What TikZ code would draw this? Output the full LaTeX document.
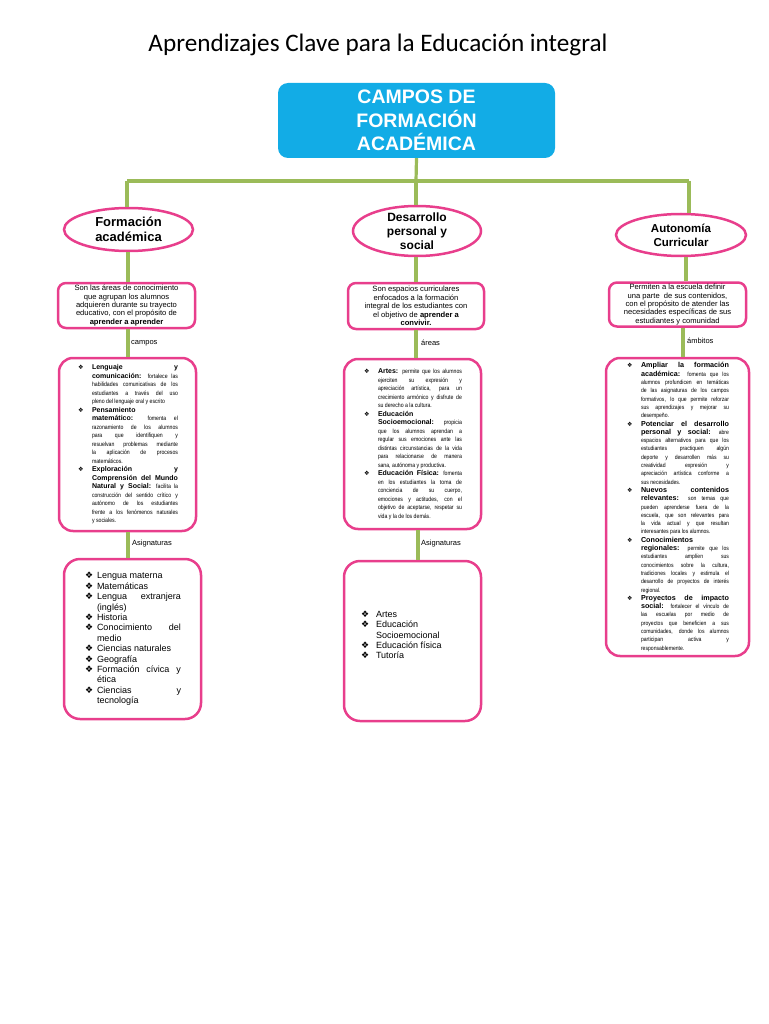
\documentclass[tikz,border=0pt]{standalone}
\usepackage{fontspec}
\setmainfont{Liberation Sans}
\newfontfamily\titlefont{Carlito}
\newfontfamily\symfont{DejaVu Sans}
\newfontfamily\narrowfont[FakeStretch=0.85]{Liberation Sans}
\usetikzlibrary{shapes.geometric}
\definecolor{pinkc}{RGB}{232,62,140}
\definecolor{greenc}{RGB}{155,187,89}
\definecolor{cyanc}{RGB}{18,172,230}
\newcommand\jsetup{\tolerance=10000\hbadness=10000\hyphenpenalty=10000\exhyphenpenalty=10000}
\newcommand\bodyfont[2]{\narrowfont\fontsize{#1}{#2}\selectfont}
\newcommand\hd[2][7]{{\normalfont\bfseries\fontsize{#1}{8}\selectfont #2}}
\newcommand\itm[2][15pt]{\par\noindent\hangindent=#1\hangafter=1\makebox[#1][l]{\hspace{1pt}{\symfont ❖}}#2}
\newcommand\boxfont{\fontsize{7.6}{8.4}\selectfont}
\tikzset{
  pinkbox/.style={draw=pinkc, line width=2.5pt, fill=white, rounded corners=#1, inner sep=0pt},
  pinkbox/.default=8pt,
  ell/.style={ellipse, draw=pinkc, line width=2.5pt, fill=white, inner sep=0pt},
  elltext/.style={align=center, inner sep=0pt, font=\bfseries},
  conn/.style={draw=greenc, line width=3.2pt},
  lbl/.style={anchor=west, inner sep=0pt, font=\fontsize{7.5}{8}\selectfont},
}
\begin{document}
\begin{tikzpicture}[x=1pt,y=-1pt]
\useasboundingbox (0,0) rectangle (768,1024);
% title
\node[inner sep=0pt, font=\titlefont\fontsize{25.2}{28}\selectfont] (title) at (378,45) {Aprendizajes Clave para la Educación integral};
% top box
\node[fill=cyanc, rounded corners=10pt, minimum width=277pt, minimum height=75pt, inner sep=0pt,
      text=white, align=center, font=\bfseries\fontsize{19.5}{23.5}\selectfont] (top) at (416.5,120.5)
      {CAMPOS DE\\FORMACIÓN\\ACADÉMICA};
% bar coordinates
\coordinate (barL) at (127,181);
\coordinate (barM) at (416,181);
\coordinate (barR) at (689,181);
\coordinate (cL) at (128,0);
\coordinate (cM) at (416,0);
\coordinate (cM2) at (418,0);
\coordinate (cR1) at (686,0);
\coordinate (cR2) at (683,0);
% ellipses
\node[ell, minimum width=129pt, minimum height=43pt] (e1) at (128.5,229.5) {};
\node[elltext, font=\bfseries\fontsize{13}{15}\selectfont] (e1t) at (e1.center) {Formación\\académica};
\node[ell, minimum width=128pt, minimum height=50pt] (e2) at (417,231) {};
\node[elltext, font=\bfseries\fontsize{12}{14}\selectfont] (e2t) at (e2.center) {Desarrollo\\personal y\\social};
\node[ell, minimum width=130pt, minimum height=42pt] (e3) at (681,235) {};
\node[elltext, font=\bfseries\fontsize{11.5}{14}\selectfont] (e3t) at (e3.center) {Autonomía\\Curricular};
% first boxes
\node[pinkbox=8pt, minimum width=137pt, minimum height=45pt] (lb1) at (126.5,305.5)
  {\parbox{136pt}{\centering\boxfont Son las áreas de conocimiento\\que agrupan los alumnos\\adquieren durante su trayecto\\educativo, con el propósito de\\\textbf{aprender a aprender}}};
\node[pinkbox=8pt, minimum width=136pt, minimum height=46pt] (mb1) at (416,306)
  {\parbox{136pt}{\centering\boxfont Son espacios curriculares\\enfocados a la formación\\integral de los estudiantes con\\el objetivo de \textbf{aprender a}\\\textbf{convivir.}}};
\node[pinkbox=8pt, minimum width=137pt, minimum height=44pt] (rb1) at (677.5,304.5)
  {\parbox{137pt}{\centering\boxfont Permiten a la escuela definir\\una parte\ \ de sus contenidos,\\con el propósito de atender las\\necesidades específicas de sus\\estudiantes y comunidad}};
% second boxes
\node[pinkbox=14pt, minimum width=137pt, minimum height=173pt] (lb2) at (127.5,444.5)
  {\parbox{101pt}{\jsetup\bodyfont{6.1}{8.5}%
  \itm{\hd{Lenguaje y}\linebreak \hd{comunicación:} fortalece las\linebreak habilidades comunicativas de los\linebreak estudiantes a través del uso\linebreak pleno del lenguaje oral y escrito}
  \itm{\hd{Pensamiento}\linebreak \hd{matemático:} fomenta el\linebreak razonamiento de los alumnos\linebreak para que identifiquen y\linebreak resuelvan problemas mediante\linebreak la aplicación de procesos\linebreak matemáticos.}
  \itm{\hd{Exploración y}\linebreak \hd{Comprensión del Mundo}\linebreak \hd{Natural y Social:} facilita la\linebreak construcción del sentido crítico y\linebreak autónomo de los estudiantes\linebreak frente a los fenómenos naturales\linebreak y sociales.}}};
\node[pinkbox=14pt, minimum width=137pt, minimum height=170pt] (mb2) at (412.5,444)
  {\parbox{99pt}{\jsetup\bodyfont{6.1}{8.5}%
  \itm{\hd{Artes:} permite que los alumnos\linebreak ejerciten su expresión y\linebreak apreciación artística, para un\linebreak crecimiento armónico y disfrute de\linebreak su derecho a la cultura.}
  \itm{\hd{Educación}\linebreak \hd{Socioemocional:} propicia\linebreak que los alumnos aprendan a\linebreak regular sus emociones ante las\linebreak distintas circunstancias de la vida\linebreak para relacionarse de manera\linebreak sana, autónoma y productiva.}
  \itm{\hd{Educación Física:} fomenta\linebreak en los estudiantes la toma de\linebreak conciencia de su cuerpo,\linebreak emociones y actitudes, con el\linebreak objetivo de aceptarse, respetar su\linebreak vida y la de los demás.}}};
\node[pinkbox=14pt, minimum width=143pt, minimum height=298pt] (rb2) at (677.5,507)
  {\parbox{103pt}{\jsetup\bodyfont{6}{8.3}%
  \itm{\hd[7.2]{Ampliar la formación}\linebreak \hd[7.2]{académica:} fomenta que los\linebreak alumnos profundicen en temáticas\linebreak de las asignaturas de los campos\linebreak formativos, lo que permite reforzar\linebreak sus aprendizajes y mejorar su\linebreak desempeño.}
  \itm{\hd[7.2]{Potenciar el desarrollo}\linebreak \hd[7.2]{personal y social:} abre\linebreak espacios alternativos para que los\linebreak estudiantes practiquen algún\linebreak deporte y desarrollen más su\linebreak creatividad expresión y\linebreak apreciación artística conforme a\linebreak sus necesidades.}
  \itm{\hd[7.2]{Nuevos contenidos}\linebreak \hd[7.2]{relevantes:} son temas que\linebreak pueden aprenderse fuera de la\linebreak escuela, que son relevantes para\linebreak la vida actual y que resultan\linebreak interesantes para los alumnos.}
  \itm{\hd[7.2]{Conocimientos}\linebreak \hd[7.2]{regionales:} permite que los\linebreak estudiantes amplíen sus\linebreak conocimientos sobre la cultura,\linebreak tradiciones locales y estimula el\linebreak desarrollo de proyectos de interés\linebreak regional.}
  \itm{\hd[7.2]{Proyectos de impacto}\linebreak \hd[7.2]{social:} fortalecer el vínculo de\linebreak las escuelas por medio de\linebreak proyectos que beneficien a sus\linebreak comunidades, donde los alumnos\linebreak participan activa y\linebreak responsablemente.}}};
% third boxes
\node[pinkbox=16pt, minimum width=137pt, minimum height=160pt] (lb3) at (132.5,639)
  {\parbox{97pt}{\jsetup\fontsize{9}{10.4}\selectfont
  \itm[13pt]{Lengua materna}
  \itm[13pt]{Matemáticas}
  \itm[13pt]{Lengua extranjera\linebreak (inglés)}
  \itm[13pt]{Historia}
  \itm[13pt]{Conocimiento del\linebreak medio}
  \itm[13pt]{Ciencias naturales}
  \itm[13pt]{Geografía}
  \itm[13pt]{Formación cívica y\linebreak ética}
  \itm[13pt]{Ciencias y\linebreak tecnología}}};
\node[pinkbox=16pt, minimum width=137pt, minimum height=160pt] (mb3) at (412.5,641)
  {\parbox{105pt}{\raggedright\fontsize{9}{10.3}\selectfont
  \itm[16pt]{Artes}
  \itm[16pt]{Educación\newline Socioemocional}
  \itm[16pt]{Educación física}
  \itm[16pt]{Tutoría}\par\vspace{12pt}}};
% connectors
\draw[conn] (top.south) -- (barM);
\draw[conn] (barL) -- (barR);
\draw[conn] (barL) -- (barL |- e1.north);
\draw[conn] (barM) -- (barM |- e2.north);
\draw[conn] (barR) -- (barR |- e3.north);
\draw[conn] (e1.south -| cL) -- (lb1.north -| cL);
\draw[conn] (lb1.south -| cL) -- (lb2.north -| cL);
\draw[conn] (lb2.south -| cL) -- (lb3.north -| cL);
\draw[conn] (e2.south -| cM) -- (mb1.north -| cM);
\draw[conn] (mb1.south -| cM) -- (mb2.north -| cM);
\draw[conn] (mb2.south -| cM2) -- (mb3.north -| cM2);
\draw[conn] (e3.south -| cR1) -- (rb1.north -| cR1);
\draw[conn] (rb1.south -| cR2) -- (rb2.north -| cR2);
% labels
\node[lbl] (l1) at (131,343) {campos};
\node[lbl] (l2) at (421,343) {áreas};
\node[lbl] (l3) at (687,341) {ámbitos};
\node[lbl] (l4) at (132,544) {Asignaturas};
\node[lbl] (l5) at (421,544) {Asignaturas};
\end{tikzpicture}
\end{document}
